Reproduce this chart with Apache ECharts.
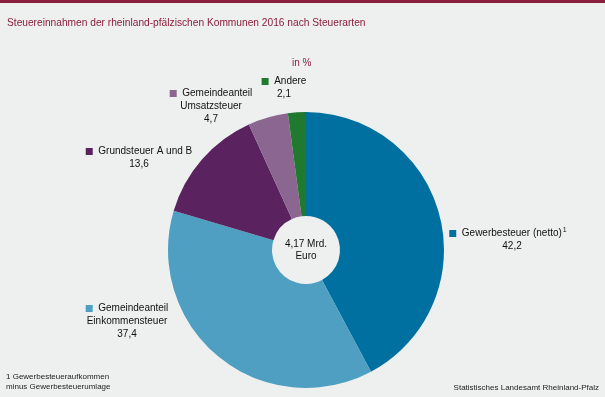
<!DOCTYPE html>
<html>
<head>
<meta charset="utf-8">
<script src="https://cdn.jsdelivr.net/npm/echarts@6/dist/echarts.min.js"></script>
<style>
  html, body { margin: 0; padding: 0; background: #eef0ef; }
  #chart { width: 605px; height: 397px; border-top: 3px solid #8b1d3d; box-sizing: border-box; }
</style>
</head>
<body>
<div id="chart"></div>
<script>
  // Steuerarten, Anteile in %
  var categories = ['Gewerbesteuer (netto)', 'Gemeindeanteil\nEinkommensteuer', 'Grundsteuer A und B', 'Gemeindeanteil\nUmsatzsteuer', 'Andere'];
  var values = [42.2, 37.4, 13.6, 4.7, 2.1];
  var colors = ['#0070a0', '#4e9fc1', '#5a2360', '#8a6690', '#1f7a2f'];
  // Label-Ankerpunkte (Textmitte oben)
  var labelPos = [[508, 224], [127, 299], [139, 142], [211, 84], [284, 72]];

  var myChart = echarts.init(document.getElementById('chart'));
  var font = '"Liberation Sans", Arial, sans-serif';

  var option = {
    backgroundColor: '#eef0ef',
    animation: false,
    title: {
      text: 'Steuereinnahmen der rheinland-pfälzischen Kommunen 2016 nach Steuerarten',
      left: 2,
      top: 10,
      textStyle: { color: '#8b1d3d', fontSize: 10.2, fontWeight: 'normal', fontFamily: font }
    },
    graphic: [
      { type: 'text', left: 292, top: 55, style: { text: 'in %', fill: '#8b1d3d', font: '10px ' + font } },
      { type: 'text', left: 6, top: 369, style: { text: '1 Gewerbesteueraufkommen\nminus Gewerbesteuerumlage', fill: '#222', font: '8px ' + font, lineHeight: 10 } },
      { type: 'text', right: 6, top: 381, style: { text: 'Statistisches Landesamt Rheinland-Pfalz', fill: '#222', font: '8px ' + font } },
      { type: 'text', x: 306, y: 247, style: { text: '4,17 Mrd.\nEuro', fill: '#111', font: '10px ' + font, align: 'center', verticalAlign: 'middle', lineHeight: 12 } }
    ],
    series: [{
      type: 'pie',
      center: [306, 247],
      radius: [34, 138],
      startAngle: 90,
      clockwise: true,
      silent: true,
      data: categories.map(function (c, i) {
        return { name: c, value: values[i], itemStyle: { color: colors[i] } };
      }),
      label: {
        show: true,
        position: 'outside',
        overflow: 'none',
        formatter: function (p) {
          var lines = p.name.split('\n');
          var first = '{sq' + p.dataIndex + '|}  ' + lines[0];
          var val = String(p.value).replace('.', ',');
          if (p.dataIndex === 0) {
            first += '{sup|1}';
            val = '{v0|' + val + '}';
          }
          var rest = lines.slice(1);
          rest.push(val);
          return [first].concat(rest).join('\n');
        },
        color: '#111',
        fontSize: 10,
        fontFamily: font,
        lineHeight: 13,
        align: 'center',
        rich: {
          sq0: { width: 7, height: 7, backgroundColor: colors[0] },
          sq1: { width: 7, height: 7, backgroundColor: colors[1] },
          sq2: { width: 7, height: 7, backgroundColor: colors[2] },
          sq3: { width: 7, height: 7, backgroundColor: colors[3] },
          sq4: { width: 7, height: 7, backgroundColor: colors[4] },
          sup: { fontSize: 7, verticalAlign: 'top', padding: [0, 0, 6, 1] },
          v0: { padding: [0, 0, 0, 8] }
        }
      },
      labelLine: { show: false },
      labelLayout: function (params) {
        var pos = labelPos[params.dataIndex];
        return { x: pos[0], y: pos[1], align: 'center', verticalAlign: 'top' };
      }
    }]
  };
  myChart.setOption(option);
</script>
</body>
</html>
